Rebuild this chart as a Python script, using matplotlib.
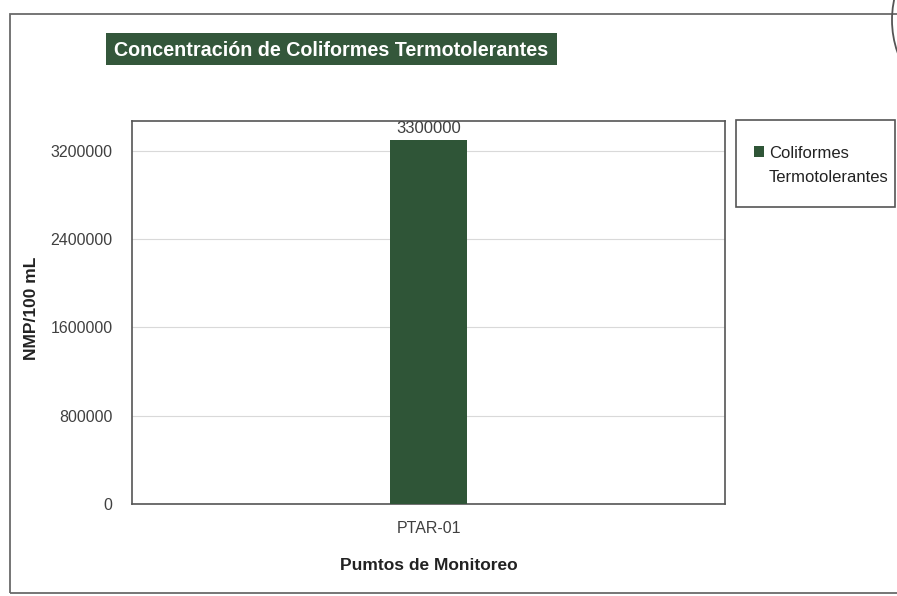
import matplotlib.pyplot as plt
from matplotlib.patches import Rectangle, Arc

# data
puntos = ["PTAR-01"]
coliformes = [3300000]
serie = "Coliformes"
serie_2 = "Termotolerantes"
yticks = [0, 800000, 1600000, 2400000, 3200000]

plt.rcParams['font.family'] = ["Liberation Sans", "DejaVu Sans"]

verde = "#2f5537"
gris = "#404040"
W, H = 897, 596

fig = plt.figure(figsize=(8.97, 5.96), dpi=100)
ax = fig.add_axes([132/W, 1-504/H, 593/W, 383/H])

x = list(range(len(puntos)))
bars = ax.bar(x, coliformes, width=0.1315, color=verde, label=serie, zorder=3)
for b, v in zip(bars, coliformes):
    ax.text(b.get_x() + b.get_width()/2, v + 30000, str(v), ha="center", va="bottom",
            fontsize=12, color=gris)

ax.set_xlim(-0.5, 0.5)
ax.set_ylim(0, 3470000)
ax.set_yticks(yticks)
ax.set_yticklabels([str(t) for t in yticks])
ax.set_xticks(x)
ax.set_xticklabels(puntos)
ax.tick_params(axis="both", length=0, labelsize=11.5, labelcolor=gris)
ax.tick_params(axis="y", pad=14)
ax.tick_params(axis="x", pad=12)
ax.yaxis.grid(True, color="#d9d9d9", lw=0.8, zorder=0)
for s in ax.spines.values():
    s.set_color("#555555")
    s.set_linewidth(1.2)

ax.set_xlabel("Pumtos de Monitoreo", fontsize=12.5, fontweight="bold", color="#222222", labelpad=16)
fig.text(31/W, 1-308/H, "NMP/100 mL", rotation=90, ha="center", va="center",
         fontsize=12.5, fontweight="bold", color="#222222")

# title box
fig.patches.append(Rectangle((106/W, 1-65/H), 451/W, 32/H, transform=fig.transFigure,
                             fc="#34573b", ec="none"))
fig.text(331/W, 1-50/H, "Concentración de Coliformes Termotolerantes",
         ha="center", va="center", fontsize=14.2, fontweight="bold", color="white")

# legend
fig.patches.append(Rectangle((736/W, 1-207/H), 159/W, 87/H, transform=fig.transFigure,
                             fill=False, ec="#555555", lw=1.2))
leg = fig.legend(loc="center left", bbox_to_anchor=(754/W, 1-153/H), frameon=False,
                 fontsize=12, handlelength=0.6, handleheight=0.6,
                 handletextpad=0.3, borderpad=0, borderaxespad=0, labelcolor="#222222")
fig.text(769/W, 1-177/H, serie_2, ha="left", va="center", fontsize=12, color="#222222")

# outer frame
fig.patches.append(Rectangle((10/W, 3/H), 1.0, 579/H, transform=fig.transFigure,
                             fill=False, ec="#6a6a6a", lw=1.3))
fig.patches.append(Arc((990/W, 1-20/H), 196/W, 196/H, theta1=130, theta2=230,
                       transform=fig.transFigure, ec="#555555", lw=1.3))

fig.savefig("out.png", dpi=100, facecolor="white")
